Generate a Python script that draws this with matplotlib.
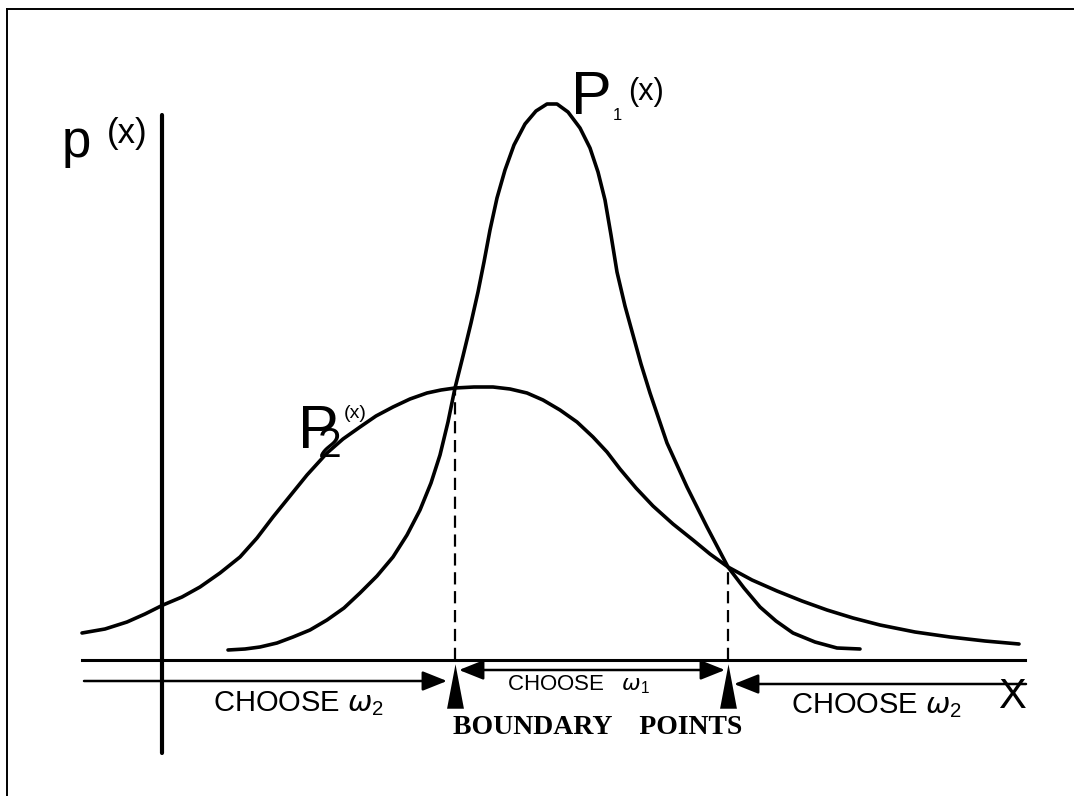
import matplotlib.pyplot as plt

# diagram units: x measured right from the p(x) axis, y measured up from the x axis
p1_x = [66, 83, 98, 115, 131, 148, 165, 182, 198, 215, 231, 245, 258, 269, 278, 286, 293,
        301, 309, 316, 322, 328, 335, 343, 352, 363, 374, 385, 395, 406, 418, 428, 436,
        443, 449, 455, 463, 471, 479, 488, 505, 525, 545, 566, 582, 598, 614, 631, 653,
        675, 698]
p1_y = [10, 11, 13, 17, 23, 30, 40, 52, 67, 84, 103, 125, 150, 177, 205, 238, 272,
        304, 337, 368, 398, 430, 462, 490, 515, 536, 549, 556, 556, 548, 532, 512, 488,
        460, 425, 388, 354, 325, 296, 267, 217, 173, 133, 93, 72, 53, 39, 27, 18,
        12, 11]

p2_x = [-80, -57, -35, -17, 1, 20, 38, 58, 78, 95, 111, 128, 145, 165, 181, 198, 214, 231,
        248, 265, 279, 293, 312, 331, 348, 365, 381, 398, 415, 431, 445, 458, 474, 491,
        511, 531, 548, 566, 590, 615, 640, 665, 691, 718, 753, 788, 823, 857]
p2_y = [27, 31, 38, 46, 55, 63, 73, 87, 103, 122, 143, 164, 185, 207, 221, 233, 244, 253,
        261, 267, 270, 272, 273, 273, 271, 267, 260, 250, 238, 223, 208, 191, 172, 154,
        136, 120, 106, 93, 80, 69, 59, 50, 42, 35, 28, 23, 19, 16]

# where the two densities cross
boundary_x = [293, 566]
boundary_y = [272, 93]

plt.rcParams['font.family'] = ['Liberation Sans', 'DejaVu Sans']
plt.rcParams['mathtext.fontset'] = 'custom'
plt.rcParams['mathtext.rm'] = 'Liberation Sans'
plt.rcParams['mathtext.it'] = 'DejaVu Sans:italic'

fig = plt.figure(figsize=(10.74, 7.96), dpi=100)
ax = fig.add_axes([0, 0, 1, 1])
ax.set_xlim(-162, 912)
ax.set_ylim(-136, 660)
ax.axis('off')

# page frame (only the top and left edges show)
ax.plot([-155, 912], [651, 651], color='k', lw=1.4)
ax.plot([-155, -155], [651, -136], color='k', lw=1.4)

# axes
ax.plot([0, 0], [545, -93], color='k', lw=3.0, solid_capstyle='round')
ax.plot([-80, 863], [0, 0], color='k', lw=2.2)

# density curves
for xs, ys in [(p1_x, p1_y), (p2_x, p2_y)]:
    ax.plot(xs, ys, color='k', lw=2.6, solid_capstyle='round', solid_joinstyle='round')

# dashed drop lines at the boundary points
ax.vlines(boundary_x, 0, boundary_y, colors='k', lw=1.6, linestyles=(0, (5.5, 3)))

# decision region arrows
arr = dict(arrowstyle='-|>,head_length=0.75,head_width=0.3', color='k', lw=1.8,
           shrinkA=0, shrinkB=0, mutation_scale=20)
ax.annotate('', xy=(boundary_x[0] - 8, -21), xytext=(-78, -21), arrowprops=arr)
ax.annotate('', xy=(boundary_x[1] + 6, -24), xytext=(864, -24), arrowprops=arr)
arr2 = dict(arr, arrowstyle='<|-|>,head_length=0.75,head_width=0.3')
ax.annotate('', xy=(boundary_x[1] - 3, -10), xytext=(boundary_x[0] + 4, -10), arrowprops=arr2)

# boundary point markers
spike = [(-0.19, -0.5), (0.19, -0.5), (0.0, 0.5), (-0.19, -0.5)]
ax.plot(boundary_x, [-26, -26], ls='none', marker=spike, markersize=32,
        color='k', markeredgewidth=0)

# labels
ax.text(-86, 517, 'p', fontsize=38, ha='center', va='center')
ax.text(-35, 527, '(x)', fontsize=25, ha='center', va='center')

ax.text(450, 562, 'P', fontsize=44, ha='right', va='center')
ax.text(451, 544, '1', fontsize=12, ha='left', va='center')
ax.text(466, 568, '(x)', fontsize=22, ha='left', va='center')

ax.text(135, 227, r'$\mathrm{P}_{\!\!\!2}$', fontsize=44, ha='left', va='center')
ax.text(182, 247, '(x)', fontsize=14, ha='left', va='center')

ax.text(136, -44, r'CHOOSE $\omega_2$', fontsize=21, ha='center', va='center')
ax.text(417, -25, r'CHOOSE   $\omega_1$', fontsize=16, ha='center', va='center')
ax.text(714, -46, r'CHOOSE $\omega_2$', fontsize=21, ha='center', va='center')
ax.text(850, -37, 'X', fontsize=30, ha='center', va='center')

ax.text(436, -68, 'BOUNDARY    POINTS', fontsize=20, ha='center', va='center',
        family=['Liberation Serif', 'DejaVu Serif'], fontweight='bold')

fig.savefig('out.png', dpi=100)
